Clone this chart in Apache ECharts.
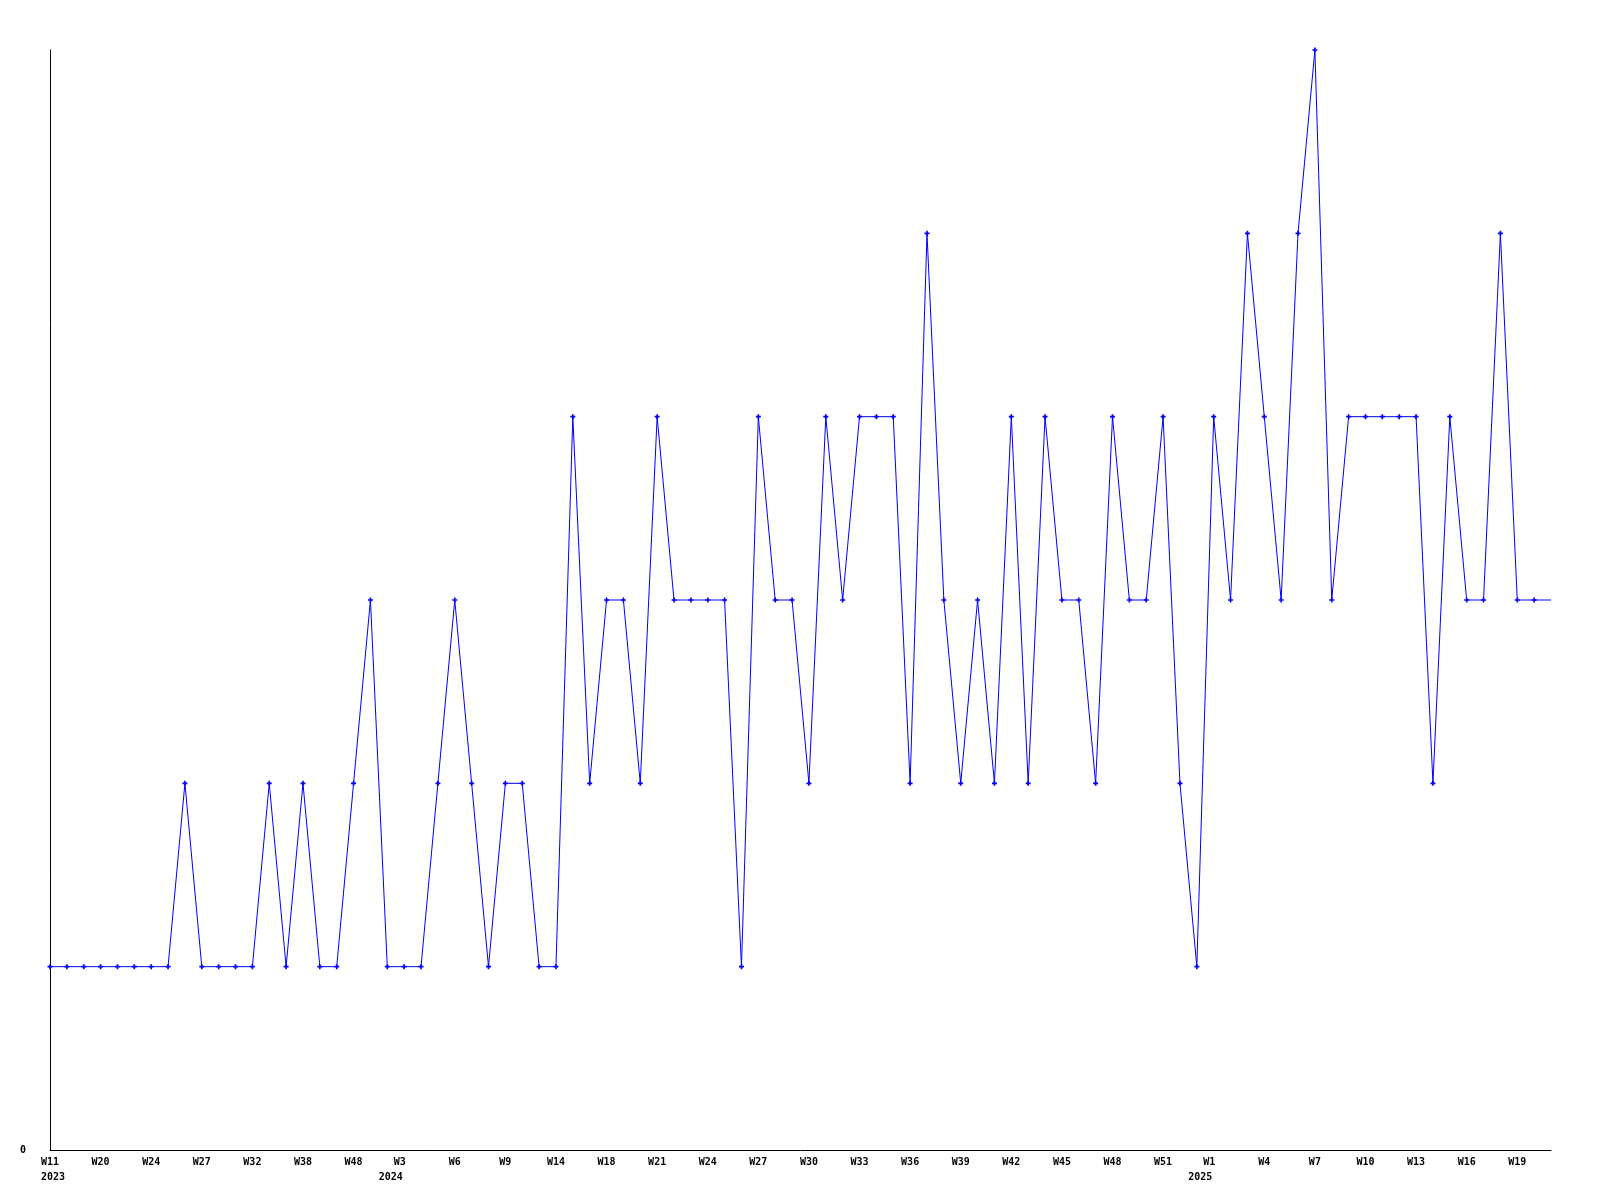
<!DOCTYPE html>
<html>
<head>
<meta charset="utf-8">
<script src="https://cdn.jsdelivr.net/npm/echarts@6/dist/echarts.min.js"></script>
<style>
html,body{margin:0;padding:0;background:#fff;}
#chart{width:1600px;height:1200px;}
</style>
</head>
<body>
<div id="chart"></div>
<script>
// Week categories (every third one is labelled on the axis)
const categories = [
  'W11\n2023','W12','W16','W20','W21','W23','W24','W25','W26','W27',
  'W29','W31','W32','W34','W36','W38','W40','W44','W48','W50',
  'W52','W3\n2024','W4','W5','W6','W7','W8','W9','W11','W13',
  'W14','W15','W17','W18','W19','W20','W21','W22','W23','W24',
  'W25','W26','W27','W28','W29','W30','W31','W32','W33','W34',
  'W35','W36','W37','W38','W39','W40','W41','W42','W43','W44',
  'W45','W46','W47','W48','W49','W50','W51','W52','W53','W1\n2025',
  'W2','W3','W4','W5','W6','W7','W8','W9','W10','W11',
  'W12','W13','W14','W15','W16','W17','W18','W19','W20','W21'
];
const values = [
  1,1,1,1,1,1,1,1,2,1,
  1,1,1,2,1,2,1,1,2,3,
  1,1,1,2,3,2,1,2,2,1,
  1,4,2,3,3,2,4,3,3,3,
  3,1,4,3,3,2,4,3,4,4,
  4,2,5,3,2,3,2,4,2,4,
  3,3,2,4,3,3,4,2,1,4,
  3,5,4,3,5,6,3,4,4,4,
  4,4,2,4,3,3,5,3,3,3
];
const yMin = 0, yMax = 6;

const chart = echarts.init(document.getElementById('chart'));
const lastIdx = values.length - 1;
const baseFont = {
  color: '#000',
  fontFamily: 'DejaVu Sans Mono',
  fontWeight: 'bold',
  fontSize: 10,
  lineHeight: 15
};
chart.setOption({
  animation: false,
  backgroundColor: '#ffffff',
  grid: {left: 50, right: 49, top: 50, bottom: 50, containLabel: false},
  xAxis: {
    type: 'category',
    data: categories,
    boundaryGap: false,
    axisLine: {show: true, lineStyle: {color: '#000', width: 1}},
    axisTick: {show: false},
    axisLabel: Object.assign({
      interval: 2,
      margin: 5,
      formatter: function (v, i) {
        const parts = String(v).split('\n');
        if (parts.length < 2) return parts[0];
        if (i === 0) return '{wf|' + parts[0] + '}\n{yf|' + parts[1] + '}';
        return '{wn|' + parts[0] + '}\n{yn|' + parts[1] + '}';
      },
      rich: {
        wf: Object.assign({}, baseFont),
        yf: Object.assign({padding: [0, 0, 0, 6]}, baseFont),
        wn: Object.assign({padding: [0, 9, 0, 0]}, baseFont),
        yn: Object.assign({padding: [0, 27, 0, 0]}, baseFont)
      }
    }, baseFont),
    splitLine: {show: false}
  },
  yAxis: {
    type: 'value',
    min: yMin,
    max: yMax,
    interval: 1,
    axisLine: {show: true, lineStyle: {color: '#000', width: 1}},
    axisTick: {show: false},
    splitLine: {show: false},
    axisLabel: {
      margin: 24,
      color: '#000',
      fontFamily: 'DejaVu Sans Mono',
      fontWeight: 'bold',
      fontSize: 10,
      formatter: function (v) { return v === 0 ? '0' : ''; }
    }
  },
  series: [{
    type: 'line',
    data: values,
    symbol: 'path://M2,0H4V2H6V4H4V6H2V4H0V2H2Z',
    symbolSize: function (v, p) { return p.dataIndex === lastIdx ? 0 : 5; },
    showAllSymbol: true,
    lineStyle: {color: '#0000ff', width: 1},
    itemStyle: {color: '#0000ff'},
    clip: false
  }]
});
</script>
</body>
</html>
